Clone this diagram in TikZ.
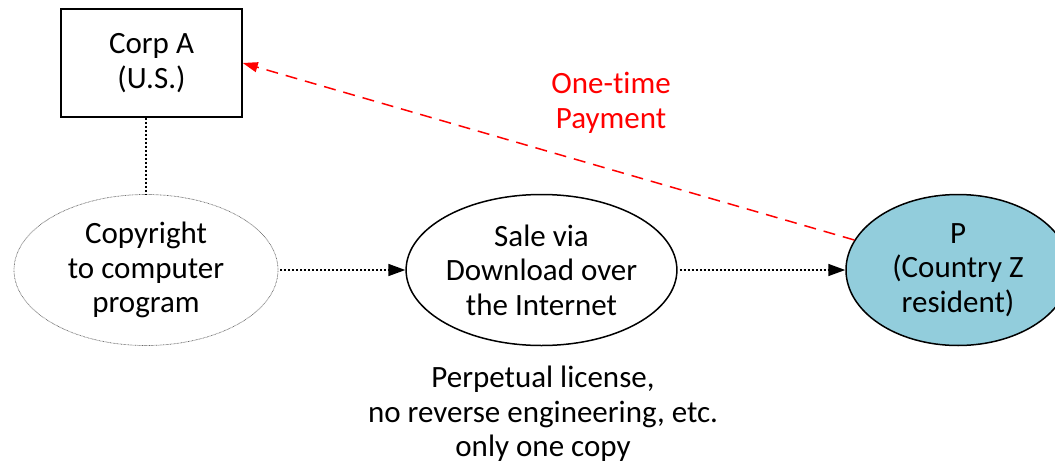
\documentclass[tikz,border=0pt]{standalone}
\usepackage{fontspec}
\setmainfont{Carlito}[Ligatures=NoCommon]
\usetikzlibrary{shapes.geometric,arrows.meta}
\definecolor{pblue}{RGB}{146,205,220}
\definecolor{payred}{RGB}{255,0,0}
\begin{document}
\begin{tikzpicture}[x=1pt,y=-1pt,
  every node/.style={font=\fontsize{31}{34.5}\selectfont, align=center, inner sep=0pt},
  ell/.style={ellipse, draw=black, line width=1.5pt, minimum width=265pt, minimum height=151pt},
  dotconn/.style={line width=1.5pt, dash pattern=on 2pt off 2pt},
  tipblack/.style={-{Triangle[length=17pt,width=12pt]}},
]
\useasboundingbox (0,0) rectangle (1055,463);
\begin{scope}
\clip (0,0) rectangle (1055,463);
\node[draw=black, line width=1.5pt, minimum width=181pt, minimum height=108pt] (A) at (151.5,63) {Corp A\\(U.S.)};
\node[ellipse, draw=black!60, line width=0.7pt, dash pattern=on 0.7pt off 0.7pt, minimum width=264pt, minimum height=151pt] (C) at (146,270) {Copyright\\to computer\\program};
\node[ell] (S) at (541.5,270) {Sale via\\Download over\\the Internet};
\node[ell, fill=pblue, minimum width=224pt] (P) at (958,270) {P\\(Country Z\\resident)};
\node (L) at (543,414) {Perpetual license,\\no reverse engineering, etc.\\only one copy};
\node[text=payred] (pay) at (611,103) {One-time\\Payment};
\draw[dotconn] (C.north |- A.south) -- (C.north);
\draw[dotconn, tipblack, shorten <=2pt] (C.east) -- (S.west);
\draw[dotconn, tipblack, shorten <=2pt] (S.east) -- (P.west);
\draw[payred, line width=1.5pt, dash pattern=on 12pt off 8pt, -{Triangle[length=15pt,width=10pt]}] (P) -- (A.east);
\end{scope}
\end{tikzpicture}
\end{document}
